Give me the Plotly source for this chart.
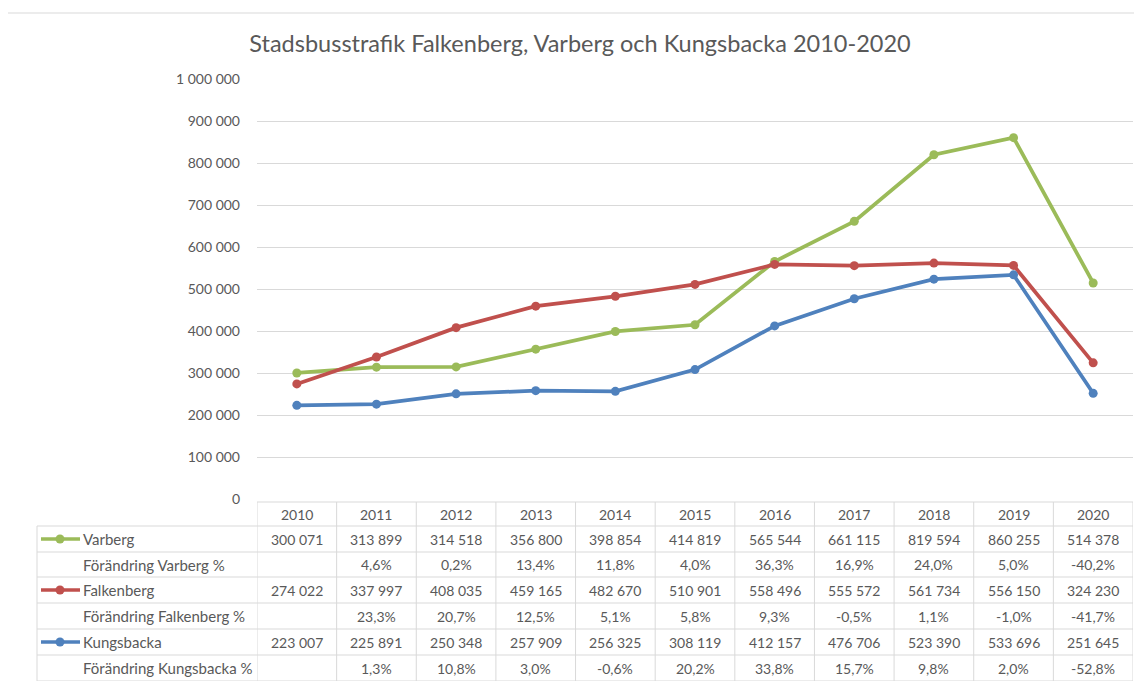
import plotly.graph_objects as go

years = [2010, 2011, 2012, 2013, 2014, 2015, 2016, 2017, 2018, 2019, 2020]
varberg = [300071, 313899, 314518, 356800, 398854, 414819, 565544, 661115, 819594, 860255, 514378]
varberg_pct = ["", "4,6%", "0,2%", "13,4%", "11,8%", "4,0%", "36,3%", "16,9%", "24,0%", "5,0%", "-40,2%"]
falkenberg = [274022, 337997, 408035, 459165, 482670, 510901, 558496, 555572, 561734, 556150, 324230]
falkenberg_pct = ["", "23,3%", "20,7%", "12,5%", "5,1%", "5,8%", "9,3%", "-0,5%", "1,1%", "-1,0%", "-41,7%"]
kungsbacka = [223007, 225891, 250348, 257909, 256325, 308119, 412157, 476706, 523390, 533696, 251645]
kungsbacka_pct = ["", "1,3%", "10,8%", "3,0%", "-0,6%", "20,2%", "33,8%", "15,7%", "9,8%", "2,0%", "-52,8%"]
y_ticks = [0, 100000, 200000, 300000, 400000, 500000, 600000, 700000, 800000, 900000, 1000000]
title = "Stadsbusstrafik Falkenberg, Varberg och Kungsbacka 2010-2020"

GREEN, RED, BLUE = "#9BBB59", "#C0504D", "#4F81BD"
TXT = "#595959"
GRID = "#D9D9D9"
FONT = "Lato"

OFF = 8  # page body margin
W, H = 1142 - OFF, 681 - OFF
# plot area in page px
PL, PR, PT, PB = 257, 1133, 79, 499
L, R, T, B = PL - OFF, PR - OFF, PT - OFF, PB - OFF


def fmt(v):
    return f"{v:,}".replace(",", " ")


def px(xp):  # page px -> paper x
    return (xp - OFF - L) / (R - L)


def py(yp):  # page px -> paper y
    return (B - (yp - OFF)) / (B - T)


fig = go.Figure()
for name, vals, col in [("Varberg", varberg, GREEN), ("Falkenberg", falkenberg, RED), ("Kungsbacka", kungsbacka, BLUE)]:
    fig.add_trace(go.Scatter(x=years, y=vals, name=name, mode="lines+markers",
                             line=dict(color=col, width=3.75),
                             marker=dict(color=col, size=9),
                             showlegend=False))

shapes = []
annotations = []

# chart border
shapes.append(dict(type="rect", xref="paper", yref="paper", x0=px(7), x1=px(1160), y0=py(13), y1=py(700),
                   line=dict(color=GRID, width=1), layer="below"))

# table
row_edges = [502, 526, 552, 577, 603, 629, 655, 681]
rows = [
    ("Varberg", varberg, None, GREEN),
    ("Förändring Varberg %", None, varberg_pct, None),
    ("Falkenberg", falkenberg, None, RED),
    ("Förändring Falkenberg %", None, falkenberg_pct, None),
    ("Kungsbacka", kungsbacka, None, BLUE),
    ("Förändring Kungsbacka %", None, kungsbacka_pct, None),
]
shapes.append(dict(type="line", xref="x", yref="paper", x0=years[0] - 0.5, x1=years[-1] + 0.5,
                   y0=py(row_edges[0]), y1=py(row_edges[0]), line=dict(color=GRID, width=1)))
for ye in row_edges[1:]:
    shapes.append(dict(type="line", xref="paper", yref="paper", x0=px(37), x1=1,
                       y0=py(ye), y1=py(ye), line=dict(color=GRID, width=1)))
for i in range(len(years) + 1):
    xv = years[0] - 0.5 + i
    shapes.append(dict(type="line", xref="x", yref="paper", x0=xv, x1=xv,
                       y0=py(row_edges[0]), y1=py(row_edges[-1]), line=dict(color=GRID, width=1)))
shapes.append(dict(type="line", xref="paper", yref="paper", x0=px(37), x1=px(37),
                   y0=py(row_edges[1]), y1=py(row_edges[-1]), line=dict(color=GRID, width=1)))

hc = (row_edges[0] + row_edges[1]) / 2
for yv in years:
    annotations.append(dict(x=yv, y=py(hc), xref="x", yref="paper", text=str(yv), showarrow=False,
                            font=dict(family=FONT, size=14, color=TXT), xanchor="center", yanchor="middle"))
for ri, (label, vals, pcts, col) in enumerate(rows):
    yc = (row_edges[ri + 1] + row_edges[ri + 2]) / 2
    annotations.append(dict(x=px(81), y=py(yc), xref="paper", yref="paper", text=label, showarrow=False,
                            font=dict(family=FONT, size=15, color=TXT), xanchor="left", yanchor="middle"))
    if col:
        shapes.append(dict(type="line", xref="paper", yref="paper", x0=px(41), x1=px(80), y0=py(yc), y1=py(yc),
                           line=dict(color=col, width=3.5)))
        shapes.append(dict(type="circle", xref="paper", yref="paper", x0=px(55.5), x1=px(64.5),
                           y0=py(yc + 4.5), y1=py(yc - 4.5), line=dict(color=col, width=0), fillcolor=col))
    texts = [fmt(v) for v in vals] if vals else pcts
    for yv, t in zip(years, texts):
        annotations.append(dict(x=yv, y=py(yc), xref="x", yref="paper", text=t, showarrow=False,
                                font=dict(family=FONT, size=14, color=TXT), xanchor="center", yanchor="middle"))

fig.update_layout(
    width=W, height=H,
    margin=dict(l=L, r=W - R, t=T, b=H - B),
    paper_bgcolor="white", plot_bgcolor="white",
    title=dict(text=title, xref="container", yref="container", x=(580 - OFF) / W, xanchor="center",
               y=1 - (44 - OFF) / H, yanchor="middle",
               font=dict(family=FONT, size=23.5, color=TXT)),
    xaxis=dict(range=[years[0] - 0.5, years[-1] + 0.5], showticklabels=False, showgrid=False,
               zeroline=False, showline=False),
    yaxis=dict(range=[0, 1000000], tickvals=y_ticks, ticktext=[fmt(v) for v in y_ticks],
               showgrid=True, gridcolor=GRID, gridwidth=1, zeroline=False, showline=False,
               ticklabelstandoff=16, tickfont=dict(family=FONT, size=14, color=TXT)),
    shapes=shapes, annotations=annotations,
    font=dict(family=FONT, color=TXT),
)
fig.write_html("out.html")
